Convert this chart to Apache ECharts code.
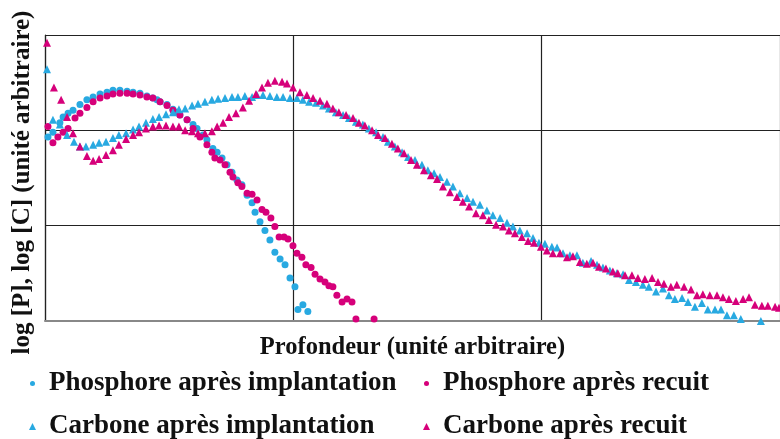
<!DOCTYPE html>
<html>
<head>
<meta charset="utf-8">
<script src="https://cdn.jsdelivr.net/npm/echarts@6/dist/echarts.min.js"></script>
<style>
  html, body { margin: 0; padding: 0; background: #fff; }
  #profil { width: 780px; height: 439px; }
</style>
</head>
<body>
<div id="profil"></div>
<script>
// Profils de concentration : [profondeur, log concentration] (unités arbitraires)
var seriesNames = [
  'Phosphore après implantation',
  'Phosphore après recuit',
  'Carbone après implantation',
  'Carbone après recuit'
];

var phosImpl = [
  [1.2,1.93],[3.2,1.98],[6.0,2.08],[7.3,2.14],[9.3,2.18],[11.3,2.21],[14.1,2.27],[16.9,2.32],
  [19.4,2.35],[22.2,2.38],[25.0,2.40],[27.4,2.42],[30.2,2.42],[33.1,2.41],[35.5,2.40],[38.3,2.39],
  [41.1,2.36],[43.5,2.34],[45.2,2.32],[46.4,2.30],[49.2,2.27],[51.6,2.22],[53.2,2.19],[54.4,2.16],
  [57.3,2.11],[59.7,2.06],[61.3,2.02],[63.7,1.95],[65.3,1.90],[67.7,1.81],[69.4,1.77],[71.4,1.71],
  [73.4,1.64],[75.4,1.56],[77.4,1.48],[79.4,1.43],[81.5,1.32],[83.5,1.24],[84.7,1.14],[86.7,1.04],
  [88.7,0.95],[90.7,0.85],[92.7,0.72],[94.8,0.65],[96.8,0.59],[98.8,0.45],[100.8,0.36],[102.0,0.12],
  [104.0,0.17],[106.0,0.10]
];

var phosRecuit = [
  [1.2,2.04],[3.2,1.87],[5.2,1.93],[7.3,1.98],[9.3,2.02],[12.1,2.13],[14.1,2.18],[16.9,2.24],
  [19.4,2.30],[22.2,2.34],[25.0,2.36],[27.4,2.38],[30.2,2.39],[33.1,2.39],[35.5,2.38],[38.3,2.37],
  [41.1,2.35],[43.5,2.34],[46.4,2.30],[49.2,2.26],[51.6,2.21],[54.4,2.16],[57.3,2.11],[59.7,2.02],
  [62.5,1.93],[65.3,1.85],[67.3,1.77],[68.5,1.71],[70.6,1.69],[72.6,1.64],[74.6,1.56],[75.8,1.51],
  [77.8,1.45],[79.4,1.41],[81.5,1.34],[83.5,1.33],[85.5,1.27],[87.5,1.17],[89.1,1.14],[91.1,1.08],
  [92.7,0.99],[94.4,0.88],[96.4,0.88],[98.0,0.86],[100.0,0.79],[101.6,0.71],[103.6,0.67],[105.2,0.59],
  [107.3,0.56],[108.9,0.49],[110.9,0.44],[112.9,0.41],[114.5,0.37],[116.1,0.36],[117.7,0.27],[119.8,0.20],
  [121.8,0.23],[123.8,0.20],[125.4,0.02],[132.7,0.02]
];

var carbImpl = [
  [0.8,2.64],[3.2,2.11],[6.0,2.06],[8.9,1.95],[11.7,1.88],[14.1,1.83],[16.5,1.83],[19.4,1.85],
  [21.8,1.87],[24.6,1.88],[27.4,1.92],[29.8,1.95],[32.7,1.97],[35.5,2.01],[37.9,2.04],[40.7,2.08],
  [43.5,2.12],[46.0,2.14],[48.8,2.17],[51.6,2.19],[54.0,2.22],[56.5,2.23],[59.3,2.26],[61.7,2.28],
  [64.5,2.30],[67.3,2.32],[69.8,2.33],[72.6,2.34],[75.4,2.35],[77.8,2.35],[80.6,2.36],[83.5,2.35],
  [85.5,2.37],[87.9,2.37],[90.7,2.36],[93.5,2.35],[96.0,2.35],[98.8,2.34],[101.6,2.34],[104.0,2.32],
  [106.5,2.30],[109.3,2.29],[112.1,2.26],[114.5,2.23],[117.3,2.19],[120.2,2.16],[122.6,2.13],[125.4,2.09],
  [128.2,2.06],[130.6,2.02],[133.5,1.98],[136.3,1.93],[138.3,1.88],[141.1,1.83],[144.0,1.77],[146.4,1.72],
  [149.2,1.69],[152.0,1.64],[154.4,1.58],[156.9,1.55],[159.3,1.51],[162.1,1.46],[164.5,1.41],[167.3,1.34],
  [170.2,1.29],[172.6,1.25],[175.4,1.22],[178.2,1.16],[180.6,1.11],[183.5,1.08],[186.3,1.03],[188.7,0.99],
  [191.5,0.95],[194.4,0.92],[196.8,0.87],[199.2,0.82],[201.6,0.81],[204.4,0.78],[206.5,0.77],[208.9,0.71],
  [211.7,0.69],[214.5,0.69],[216.9,0.61],[220.2,0.63],[222.6,0.59],[225.0,0.56],[227.8,0.53],[230.6,0.50],
  [233.1,0.49],[235.5,0.43],[238.3,0.41],[241.1,0.38],[243.5,0.36],[246.4,0.31],[249.2,0.34],[251.6,0.27],
  [254.0,0.23],[256.9,0.24],[259.3,0.20],[262.1,0.15],[264.9,0.19],[267.3,0.12],[270.2,0.12],[272.6,0.12],
  [275.0,0.06],[277.8,0.06],[280.6,0.02],[288.7,0.00]
];

var carbRecuit = [
  [0.8,2.92],[3.6,2.45],[6.5,2.32],[8.9,2.14],[11.3,1.97],[14.1,1.83],[16.9,1.73],[19.4,1.68],
  [21.8,1.70],[24.6,1.74],[27.4,1.79],[29.8,1.85],[32.7,1.91],[35.5,1.95],[37.9,1.98],[40.7,2.02],
  [43.5,2.04],[46.0,2.05],[48.8,2.05],[51.6,2.04],[54.0,2.04],[56.5,2.00],[59.3,1.99],[61.7,1.97],
  [64.5,1.97],[67.3,1.99],[69.4,2.04],[71.8,2.08],[74.2,2.14],[77.0,2.18],[79.8,2.24],[82.3,2.31],
  [85.1,2.38],[87.5,2.45],[89.9,2.50],[92.7,2.52],[95.6,2.51],[97.6,2.49],[100.0,2.45],[102.8,2.40],
  [105.6,2.37],[108.1,2.34],[110.9,2.31],[113.7,2.28],[116.1,2.23],[118.5,2.19],[121.4,2.16],[124.2,2.13],
  [126.6,2.08],[129.0,2.05],[131.9,2.00],[134.3,1.95],[137.1,1.92],[139.9,1.86],[142.3,1.81],[144.8,1.76],
  [147.6,1.69],[150.0,1.64],[152.8,1.58],[155.6,1.53],[158.1,1.49],[160.5,1.41],[163.3,1.35],[166.1,1.30],
  [168.5,1.25],[171.0,1.20],[173.8,1.13],[176.6,1.11],[179.0,1.06],[181.9,1.01],[184.7,0.99],[187.1,0.95],
  [189.5,0.92],[192.3,0.88],[194.8,0.84],[197.2,0.82],[200.0,0.78],[202.4,0.74],[204.8,0.71],[207.7,0.71],
  [210.5,0.67],[212.9,0.68],[215.7,0.62],[218.5,0.60],[221.0,0.61],[223.4,0.57],[226.2,0.55],[229.0,0.52],
  [231.0,0.50],[233.9,0.48],[236.7,0.48],[239.1,0.45],[241.9,0.44],[244.8,0.45],[247.2,0.41],[249.6,0.39],
  [252.4,0.36],[254.8,0.38],[257.7,0.36],[260.5,0.33],[262.9,0.27],[265.3,0.28],[268.1,0.27],[271.0,0.27],
  [273.4,0.25],[275.8,0.23],[278.6,0.21],[281.5,0.23],[283.9,0.25],[286.3,0.17],[289.1,0.16],[291.5,0.16],
  [294.4,0.15],[296.0,0.14]
];

var BLUE = '#28a9e1';
var PINK = '#d6007a';
var FONT = '"Liberation Serif", "Times New Roman", serif';

var chart = echarts.init(document.getElementById('profil'));

// one legend per entry so the 2x2 layout is fixed
function legendItem(name, left, top, size, gap) {
  return {
    data: [name],
    left: left, top: top,
    padding: 0,
    itemWidth: size, itemHeight: size,
    textStyle: {
      fontFamily: FONT, fontWeight: 'bold', fontSize: 27, color: '#111',
      padding: [0, 0, 0, gap]
    }
  };
}

chart.setOption({
  animation: false,
  grid: { left: 45, right: 0, top: 35, bottom: 118, outerBoundsMode: 'none' },
  legend: [
    legendItem(seriesNames[0], 30, 370, 5, 9),
    legendItem(seriesNames[2], 29, 413, 7, 8),
    legendItem(seriesNames[1], 424, 370, 5, 9),
    legendItem(seriesNames[3], 423, 413, 7, 8)
  ],
  xAxis: {
    type: 'value',
    min: 0, max: 296.4, interval: 100,
    name: 'Profondeur (unité arbitraire)',
    nameLocation: 'middle',
    nameGap: 14,
    nameTextStyle: { fontFamily: FONT, fontWeight: 'bold', fontSize: 24.5, color: '#111' },
    axisLine: { show: true, lineStyle: { color: '#888', width: 2 } },
    axisTick: { show: false },
    axisLabel: { show: false },
    splitLine: { show: true, lineStyle: { color: '#222', width: 1.2 } }
  },
  yAxis: {
    type: 'value',
    min: 0, max: 3, interval: 1,
    name: 'log [P], log [C] (unité arbitraire)',
    nameLocation: 'middle',
    nameGap: 10,
    nameTextStyle: {
      fontFamily: FONT, fontWeight: 'bold', fontSize: 25, color: '#111',
      padding: [0, 9, 0, 0]
    },
    axisLine: { show: true, lineStyle: { color: '#222', width: 1.2 } },
    axisTick: { show: false },
    axisLabel: { show: false },
    splitLine: { show: true, lineStyle: { color: '#222', width: 1.2 } }
  },
  series: [
    { name: seriesNames[0], type: 'scatter', symbol: 'circle', symbolSize: 7,
      itemStyle: { color: BLUE, opacity: 1 }, data: phosImpl },
    { name: seriesNames[1], type: 'scatter', symbol: 'circle', symbolSize: 7,
      itemStyle: { color: PINK, opacity: 1 }, data: phosRecuit },
    { name: seriesNames[2], type: 'scatter', symbol: 'triangle', symbolSize: 8,
      itemStyle: { color: BLUE, opacity: 1 }, data: carbImpl },
    { name: seriesNames[3], type: 'scatter', symbol: 'triangle', symbolSize: 8,
      itemStyle: { color: PINK, opacity: 1 }, data: carbRecuit }
  ]
});

window.addEventListener('resize', function () {
  chart.resize();
});
</script>
</body>
</html>
